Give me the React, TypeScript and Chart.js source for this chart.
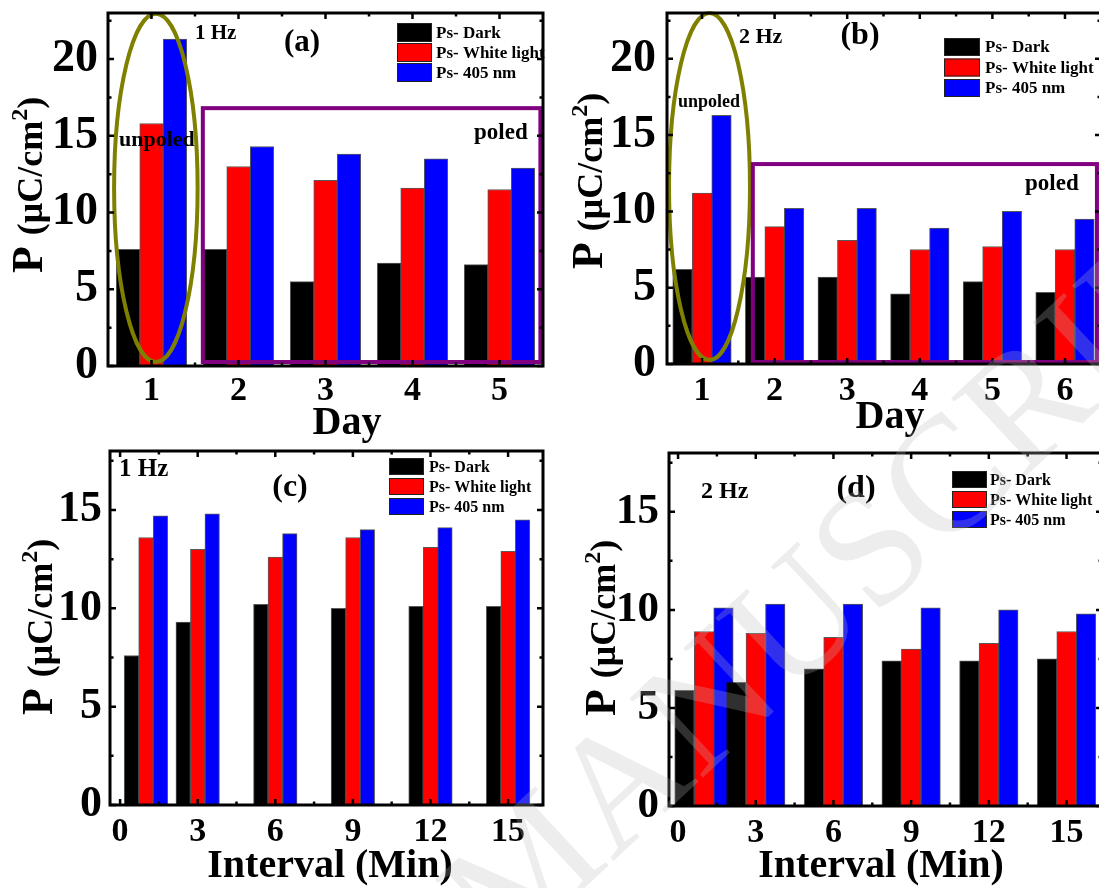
import React, { useEffect, useRef } from "react";
import { Chart, registerables } from "chart.js";

Chart.register(...registerables);

const FONT = "'Liberation Serif', 'Times New Roman', Times, serif";
const W = 1110;
const H = 888;
const XH = 60;

// ---------------- data ----------------
const seriesNames = ["Ps- Dark", "Ps- White light", "Ps- 405 nm"];
const seriesColors = ["#000000", "#ff0000", "#0000ff"];

// (a) 1 Hz, by day
const dayA = [1, 2, 3, 4, 5];
const darkA = [7.6, 7.6, 5.5, 6.7, 6.6];
const whiteA = [15.8, 13.0, 12.1, 11.6, 11.5];
const blueA = [21.3, 14.3, 13.8, 13.5, 12.9];

// (b) 2 Hz, by day
const dayB = [1, 2, 3, 4, 5, 6];
const darkB = [6.2, 5.7, 5.7, 4.6, 5.4, 4.7];
const whiteB = [11.2, 9.0, 8.1, 7.5, 7.7, 7.5];
const blueB = [16.3, 10.2, 10.2, 8.9, 10.0, 9.5];

// (c) 1 Hz, by interval (min)
const minC = [1, 3, 6, 9, 12, 15];
const darkC = [7.6, 9.3, 10.2, 10.0, 10.1, 10.1];
const whiteC = [13.6, 13.0, 12.6, 13.6, 13.1, 12.9];
const blueC = [14.7, 14.8, 13.8, 14.0, 14.1, 14.5];

// (d) 2 Hz, by interval (min)
const minD = [1, 3, 6, 9, 12, 15];
const darkD = [5.9, 6.3, 7.0, 7.4, 7.4, 7.5];
const whiteD = [8.9, 8.8, 8.6, 8.0, 8.3, 8.9];
const blueD = [10.1, 10.3, 10.3, 10.1, 10.0, 9.8];

// tick values
const dayTicksA = [1, 2, 3, 4, 5];
const dayMinorA = [1.5, 2.5, 3.5, 4.5];
const dayTicksB = [1, 2, 3, 4, 5, 6];
const dayMinorB = [1.5, 2.5, 3.5, 4.5, 5.5];
const minuteTicks = [0, 3, 6, 9, 12, 15];
const minuteMinor = [1.5, 4.5, 7.5, 10.5, 13.5];
const pTicksAB = [0, 5, 10, 15, 20];
const pMinorAB = [2.5, 7.5, 12.5, 17.5, 22.5];
const pTicksCD = [0, 5, 10, 15];
const pMinorCD = [2.5, 7.5, 12.5, 17.5];

// ---------------- panel specs ----------------
type TextItem = { text: string; x: number; y: number; size: number; align: CanvasTextAlign };
type Spec = {
  key: string;
  xs: number[];
  series: number[][];
  xMin: number; xMax: number; yMax: number;
  xTicks: number[]; xMinor: number[]; yTicks: number[]; yMinor: number[];
  area: { l: number; t: number; r: number; b: number };
  barW: number;
  yTickSize: number; yPad: number; xTickSize: number; xPad: number;
  yTitle: { bx: number; cy: number };
  xTitle: { text: string; cx: number; by: number };
  texts: TextItem[];
  legend: { x: number; y: number; w: number; h: number; pitch: number; size: number; tx: number };
  ellipse?: { x0: number; x1: number; y0: number; y1: number };
  box?: { x0: number; x1: number; y0: number; y1: number };
  watermark?: boolean;
};

const specs: Spec[] = [
  {
    key: "a", xs: dayA, series: [darkA, whiteA, blueA],
    xMin: 0.5, xMax: 5.5, yMax: 23,
    xTicks: dayTicksA, xMinor: dayMinorA, yTicks: pTicksAB, yMinor: pMinorAB,
    area: { l: 108, t: 13, r: 543, b: 366 }, barW: 23.5,
    yTickSize: 46, yPad: 10, xTickSize: 34, xPad: 8.5,
    yTitle: { bx: 42, cy: 185 },
    xTitle: { text: "Day", cx: 347, by: 434 },
    texts: [
      { text: "1 Hz", x: 195, y: 39, size: 21, align: "left" },
      { text: "(a)", x: 302, y: 51, size: 31, align: "center" },
      { text: "unpoled", x: 119, y: 146, size: 22, align: "left" },
      { text: "poled", x: 474, y: 139, size: 23, align: "left" },
    ],
    legend: { x: 397, y: 23, w: 35, h: 19, pitch: 20, size: 17, tx: 436 },
    ellipse: { x0: 0.57, x1: 1.53, y0: 0.26, y1: 22.95 },
    box: { x0: 1.59, x1: 5.47, y0: 0.26, y1: 16.8 },
  },
  {
    key: "b", xs: dayB, series: [darkB, whiteB, blueB],
    xMin: 0.518, xMax: 6.496, yMax: 23,
    xTicks: dayTicksB, xMinor: dayMinorB, yTicks: pTicksAB, yMinor: pMinorAB,
    area: { l: 667, t: 13, r: 1101, b: 364 }, barW: 19.5,
    yTickSize: 46, yPad: 11, xTickSize: 34, xPad: 10.5,
    yTitle: { bx: 602, cy: 181 },
    xTitle: { text: "Day", cx: 890, by: 428 },
    texts: [
      { text: "2 Hz", x: 739, y: 43, size: 22, align: "left" },
      { text: "(b)", x: 860, y: 44, size: 32, align: "center" },
      { text: "unpoled", x: 678, y: 107, size: 18, align: "left" },
      { text: "poled", x: 1025, y: 190, size: 23, align: "left" },
    ],
    legend: { x: 944, y: 38, w: 36, h: 18, pitch: 20.5, size: 17, tx: 985 },
    ellipse: { x0: 0.546, x1: 1.661, y0: 0.26, y1: 23.0 },
    box: { x0: 1.70, x1: 6.44, y0: 0.13, y1: 13.1 },
  },
  {
    key: "c", xs: minC, series: [darkC, whiteC, blueC],
    xMin: -0.39, xMax: 16.35, yMax: 18,
    xTicks: minuteTicks, xMinor: minuteMinor, yTicks: pTicksCD, yMinor: pMinorCD,
    area: { l: 110, t: 451, r: 543, b: 805 }, barW: 14.5,
    yTickSize: 44, yPad: 8, xTickSize: 34, xPad: 10,
    yTitle: { bx: 52, cy: 627 },
    xTitle: { text: "Interval (Min)", cx: 330, by: 877 },
    texts: [
      { text: "1 Hz", x: 119, y: 476, size: 25, align: "left" },
      { text: "(c)", x: 290, y: 496, size: 32, align: "center" },
    ],
    legend: { x: 389, y: 458, w: 35, h: 17, pitch: 20, size: 16, tx: 429 },
  },
  {
    key: "d", xs: minD, series: [darkD, whiteD, blueD],
    xMin: -0.35, xMax: 16.37, yMax: 18,
    xTicks: minuteTicks, xMinor: minuteMinor, yTicks: pTicksCD, yMinor: pMinorCD,
    area: { l: 669, t: 453, r: 1102, b: 806 }, barW: 19.5,
    yTickSize: 43, yPad: 10, xTickSize: 34, xPad: 10,
    yTitle: { bx: 615, cy: 628 },
    xTitle: { text: "Interval (Min)", cx: 881, by: 877 },
    texts: [
      { text: "2 Hz", x: 701, y: 498, size: 24, align: "left" },
      { text: "(d)", x: 856, y: 497, size: 32, align: "center" },
    ],
    legend: { x: 952, y: 471, w: 35, h: 17, pitch: 20, size: 16, tx: 990 },
    watermark: true,
  },
];

// ---------------- drawing helpers ----------------
function drawYTitle(ctx: CanvasRenderingContext2D, bx: number, cy: number) {
  const parts = [
    { t: "P ", s: 44, dy: 0 },
    { t: "(\u03bcC/cm", s: 36, dy: 0 },
    { t: "2", s: 24, dy: -15 },
    { t: ")", s: 36, dy: 0 },
  ];
  ctx.save();
  ctx.translate(bx, cy);
  ctx.rotate(-Math.PI / 2);
  ctx.fillStyle = "#000";
  ctx.textBaseline = "alphabetic";
  ctx.textAlign = "left";
  let total = 0;
  const widths: number[] = [];
  for (const p of parts) {
    ctx.font = `bold ${p.s}px ${FONT}`;
    const w = ctx.measureText(p.t).width;
    widths.push(w);
    total += w;
  }
  let x = -total / 2;
  parts.forEach((p, i) => {
    ctx.font = `bold ${p.s}px ${FONT}`;
    ctx.fillText(p.t, x, p.dy);
    x += widths[i];
  });
  ctx.restore();
}

function panelPlugin(s: Spec) {
  return {
    id: "panel_" + s.key,
    afterDatasetsDraw(chart: any) {
      const ctx: CanvasRenderingContext2D = chart.ctx;
      const xs = chart.scales.x;
      const ys = chart.scales.y;
      const { left, right, top, bottom } = chart.chartArea;
      ctx.save();

      // annotation texts
      ctx.fillStyle = "#000";
      ctx.textBaseline = "alphabetic";
      for (const t of s.texts) {
        ctx.font = `bold ${t.size}px ${FONT}`;
        ctx.textAlign = t.align;
        ctx.fillText(t.text, t.x, t.y);
      }

      // legend
      const lg = s.legend;
      seriesNames.forEach((name, i) => {
        const y = lg.y + i * lg.pitch;
        ctx.fillStyle = seriesColors[i];
        ctx.fillRect(lg.x, y, lg.w, lg.h);
        ctx.strokeStyle = "#222";
        ctx.lineWidth = 1;
        ctx.strokeRect(lg.x + 0.5, y + 0.5, lg.w - 1, lg.h - 1);
        ctx.fillStyle = "#000";
        ctx.font = `bold ${lg.size}px ${FONT}`;
        ctx.textAlign = "left";
        ctx.textBaseline = "middle";
        ctx.fillText(name, lg.tx, y + lg.h / 2 + 1);
      });

      // ellipse (unpoled)
      if (s.ellipse) {
        const e = s.ellipse;
        const x0 = xs.getPixelForValue(e.x0);
        const x1 = xs.getPixelForValue(e.x1);
        const y0 = ys.getPixelForValue(e.y0);
        const y1 = ys.getPixelForValue(e.y1);
        ctx.beginPath();
        ctx.ellipse((x0 + x1) / 2, (y0 + y1) / 2, Math.abs(x1 - x0) / 2, Math.abs(y1 - y0) / 2, 0, 0, Math.PI * 2);
        ctx.strokeStyle = "#808000";
        ctx.lineWidth = 4;
        ctx.stroke();
      }
      // box (poled)
      if (s.box) {
        const b = s.box;
        const x0 = xs.getPixelForValue(b.x0);
        const x1 = xs.getPixelForValue(b.x1);
        const y0 = ys.getPixelForValue(b.y0);
        const y1 = ys.getPixelForValue(b.y1);
        ctx.strokeStyle = "#800080";
        ctx.lineWidth = 4;
        ctx.strokeRect(x0, y1, x1 - x0, y0 - y1);
      }

      // frame
      ctx.strokeStyle = "#000";
      ctx.lineWidth = 3;
      ctx.strokeRect(left, top, right - left, bottom - top);

      // inward ticks
      ctx.lineWidth = 2.5;
      const tickX = (vals: number[], len: number) => {
        for (const v of vals) {
          const px = xs.getPixelForValue(v);
          ctx.beginPath();
          ctx.moveTo(px, bottom); ctx.lineTo(px, bottom - len);
          ctx.moveTo(px, top); ctx.lineTo(px, top + len);
          ctx.stroke();
        }
      };
      const tickY = (vals: number[], len: number) => {
        for (const v of vals) {
          const py = ys.getPixelForValue(v);
          ctx.beginPath();
          ctx.moveTo(left, py); ctx.lineTo(left + len, py);
          ctx.moveTo(right, py); ctx.lineTo(right - len, py);
          ctx.stroke();
        }
      };
      tickX(s.xTicks, 6);
      tickX(s.xMinor, 3.5);
      tickY(s.yTicks, 6);
      tickY(s.yMinor, 3.5);

      // axis titles
      drawYTitle(ctx, s.yTitle.bx, s.yTitle.cy);
      ctx.fillStyle = "#000";
      ctx.font = `bold 40px ${FONT}`;
      ctx.textAlign = "center";
      ctx.textBaseline = "alphabetic";
      ctx.fillText(s.xTitle.text, s.xTitle.cx, s.xTitle.by);

      ctx.restore();
    },
    afterDraw(chart: any) {
      if (!s.watermark) return;
      const ctx: CanvasRenderingContext2D = chart.ctx;
      ctx.save();
      ctx.translate(505, 962);
      ctx.rotate((-43 * Math.PI) / 180);
      ctx.font = `165px ${FONT}`;
      ctx.fillStyle = "rgba(185,185,185,0.26)";
      ctx.textBaseline = "alphabetic";
      ctx.textAlign = "left";
      ctx.fillText("MANUSCRIPT", 0, 0);
      ctx.textAlign = "right";
      ctx.fillText("ACCEPTED ", 0, 0);
      ctx.restore();
    },
  };
}

function buildChart(canvas: HTMLCanvasElement, s: Spec) {
  const datasets = seriesNames.map((name, i) => ({
    label: name,
    data: s.xs.map((x, j) => ({ x, y: s.series[i][j] })),
    backgroundColor: seriesColors[i],
    borderColor: "rgba(0,0,0,0.65)",
    borderWidth: 1,
    barThickness: s.barW,
  }));
  return new Chart(canvas, {
    type: "bar",
    data: { datasets },
    options: {
      responsive: false,
      animation: false,
      devicePixelRatio: 1,
      events: [],
      layout: {
        padding: { left: 0, top: s.area.t, right: W - s.area.r, bottom: H - s.area.b - XH },
      },
      plugins: { legend: { display: false }, tooltip: { enabled: false }, title: { display: false } },
      scales: {
        x: {
          type: "linear",
          offset: false,
          min: s.xMin,
          max: s.xMax,
          grid: { display: false, drawTicks: false },
          border: { display: false },
          afterBuildTicks: (sc: any) => { sc.ticks = s.xTicks.map((v) => ({ value: v })); },
          afterFit: (sc: any) => { sc.height = XH; sc.paddingLeft = 0; sc.paddingRight = 0; },
          ticks: {
            autoSkip: false, maxRotation: 0, minRotation: 0,
            padding: s.xPad, color: "#000",
            font: { family: FONT, size: s.xTickSize, weight: "bold", lineHeight: 1 },
          },
        },
        y: {
          type: "linear",
          min: 0,
          max: s.yMax,
          grid: { display: false, drawTicks: false },
          border: { display: false },
          afterBuildTicks: (sc: any) => { sc.ticks = s.yTicks.map((v) => ({ value: v })); },
          afterFit: (sc: any) => { sc.width = s.area.l; sc.paddingTop = 0; sc.paddingBottom = 0; },
          ticks: {
            autoSkip: false,
            padding: s.yPad, color: "#000",
            font: { family: FONT, size: s.yTickSize, weight: "bold", lineHeight: 1 },
          },
        },
      },
    },
    plugins: [panelPlugin(s)],
  } as any);
}

export default function App() {
  const refs = [useRef<HTMLCanvasElement>(null), useRef<HTMLCanvasElement>(null), useRef<HTMLCanvasElement>(null), useRef<HTMLCanvasElement>(null)];
  useEffect(() => {
    const charts = specs.map((s, i) => buildChart(refs[i].current as HTMLCanvasElement, s));
    return () => charts.forEach((c) => c.destroy());
  }, []);
  return (
    <div style={{ position: "absolute", left: 0, top: 0, width: 1099, height: 888, overflow: "hidden", background: "#ffffff" }}>
      {specs.map((s, i) => (
        <canvas
          key={s.key}
          ref={refs[i]}
          width={W}
          height={H}
          style={{ position: "absolute", left: 0, top: 0, width: W, height: H }}
        />
      ))}
    </div>
  );
}
